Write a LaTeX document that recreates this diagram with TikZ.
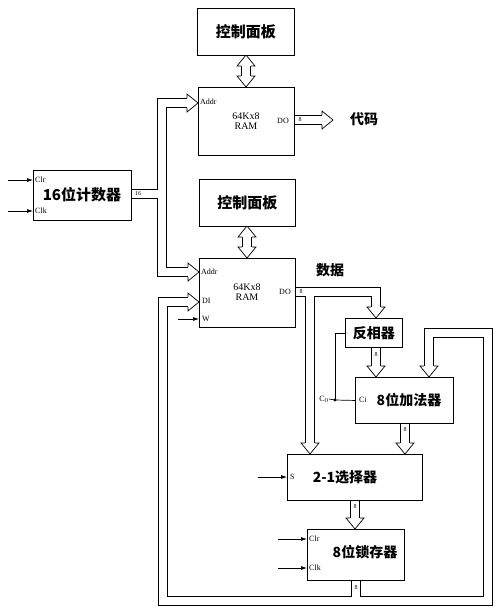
\documentclass[tikz,border=0pt]{standalone}
\usepackage{fontspec}
\setmainfont{Liberation Serif}
\newfontfamily\cjk{Noto Sans CJK SC}
\usetikzlibrary{arrows.meta,calc}
\newcommand\bushead[2]{%
  \begin{scope}[shift={#1},rotate=#2]
    \fill[white] (0,0) -- (-11,-9) -- (-11,9) -- cycle;
    \draw[line width=0.7pt,line join=miter] (-11,-5) -- (-11,-9) -- (0,0) -- (-11,9) -- (-11,5);
  \end{scope}}
\tikzset{
  box/.style={draw,line width=0.9pt,fill=white,anchor=north west,inner sep=0pt},
  bus/.style={line width=8.6pt,white,line join=miter,preaction={draw,black,line width=10pt,line join=miter}},
  sig/.style={line width=0.7pt,-{Latex[length=6pt,width=4pt]}},
  cn/.style={font=\cjk\bfseries\fontsize{14}{14}\selectfont,inner sep=0pt},
  cnbig/.style={font=\cjk\bfseries\fontsize{15}{15}\selectfont,inner sep=0pt},
  lt/.style={font=\fontsize{8}{8}\selectfont,inner sep=0pt},
  lram/.style={font=\fontsize{10}{10}\selectfont,inner sep=0pt,align=center},
  blbl/.style={font=\fontsize{6}{6}\selectfont,inner sep=0pt},
}
\begin{document}
\begin{tikzpicture}[x=1pt,y=-1pt]
\useasboundingbox[fill=white] (0,0) rectangle (502,614);

% ---------- buses ----------
\coordinate (cj) at (162,194);
\draw[bus] (131,194) -- (cj) -- (162,103) -- (187,103)
           (cj) -- (162,272) -- (188,272);
\draw[bus] (294,120) -- (322,120);
\draw[bus] (246,66) -- (246,76);
\draw[bus] (247,237) -- (247,247);
\coordinate (dj) at (310,292);
\draw[bus] (295,292) -- (376,292) -- (376,307)
           (dj) -- (310,443);
\draw[bus] (376,347) -- (376,366);
\draw[bus] (405,423) -- (405,443);
\draw[bus] (355,500) -- (355,518);
\coordinate (lj) at (356,601);
\draw[bus] (356,580) -- (lj) -- (163,601) -- (163,302) -- (188,302)
           (lj) -- (488,601) -- (488,333) -- (429,333) -- (429,366);

% ---------- bus heads ----------
\bushead{(198,103)}{0}
\bushead{(199,272)}{0}
\bushead{(199,302)}{0}
\bushead{(333,120)}{0}
\bushead{(246,55)}{90}
\bushead{(246,87)}{-90}
\bushead{(247,226)}{90}
\bushead{(247,258)}{-90}
\bushead{(376,318)}{-90}
\bushead{(310,454)}{-90}
\bushead{(376,377)}{-90}
\bushead{(405,454)}{-90}
\bushead{(355,529)}{-90}
\bushead{(429,377)}{-90}

% ---------- boxes ----------
\node[box,minimum width=97pt,minimum height=47pt] (cp1) at (197,8) {};
\node[cnbig] at (cp1.center) {控制面板};
\node[box,minimum width=96pt,minimum height=68pt] (ram1) at (198,87) {};
\node[box,minimum width=98pt,minimum height=50pt] (cnt) at (33,170) {};
\node[box,minimum width=96pt,minimum height=47pt] (cp2) at (199,179) {};
\node[cnbig] at (cp2.center) {控制面板};
\node[box,minimum width=96pt,minimum height=69pt] (ram2) at (199,258) {};
\node[box,minimum width=57pt,minimum height=29pt] (inv) at (345,318) {};
\node[box,minimum width=98pt,minimum height=46pt] (add) at (355,377) {};
\node[box,minimum width=135pt,minimum height=46pt] (sel) at (287,454) {};
\node[box,minimum width=97pt,minimum height=51pt] (lat) at (307,529) {};

% ---------- texts ----------
\node[lt,anchor=west] at (200,102) {Addr};
\node[lram] at (246,121) {64Kx8\\RAM};
\node[lt,anchor=east] at (289,121) {DO};
\node[blbl] at (300,120) {8};
\node[cn] at (364,119) {代码};

\node[cnbig] (cntt) at (82,195) {16位计数器};
\node[lt,anchor=west] at (35,180) {Clr};
\node[lt,anchor=west] at (35,211) {Clk};
\node[blbl] at (138,194) {16};

\node[lt,anchor=west] at (201,272) {Addr};
\node[lram] at (247,292) {64Kx8\\RAM};
\node[lt,anchor=east] at (291,292) {DO};
\node[blbl] at (301,292) {8};
\node[lt,anchor=west] at (202,301) {DI};
\node[lt,anchor=west] at (202,319) {W};
\node[cn] at (330,270) {数据};

\node[cn] at (inv.center) {反相器};
\node[blbl] at (376,355) {8};
\node[lt,anchor=west] at (359,400) {Ci};
\node[cn] at (409,400) {8位加法器};
\node[blbl] at (405,430) {8};
\node[lt,anchor=east] (c0) at (329,399) {C$_0$};

\node[lt,anchor=west] at (290,477) {S};
\node[cn] at (345,477) {2-1选择器};
\node[blbl] at (355,507) {8};

\node[lt,anchor=west] at (309,539) {Clr};
\node[lt,anchor=west] at (309,568) {Clk};
\node[cn] at (365,552) {8位锁存器};
\node[blbl] at (356,588) {8};

% ---------- signal lines ----------
\draw[sig] (8,180) -- (cnt.west |- 0,180);
\draw[sig] (8,211) -- (cnt.west |- 0,211);
\draw[sig] (178,319) -- (ram2.west |- 0,319);
\draw[sig] (258,477) -- (sel.west |- 0,477);
\draw[sig] (278,539) -- (lat.west |- 0,539);
\draw[sig] (278,568) -- (lat.west |- 0,568);
\coordinate (cj0) at (335,400);
\draw[line width=0.7pt] (add.west) -- (cj0) -- (c0.east);
\draw[line width=0.7pt] (cj0) |- (inv.west);
\fill (cj0) circle (1.6pt);
\end{tikzpicture}
\end{document}
